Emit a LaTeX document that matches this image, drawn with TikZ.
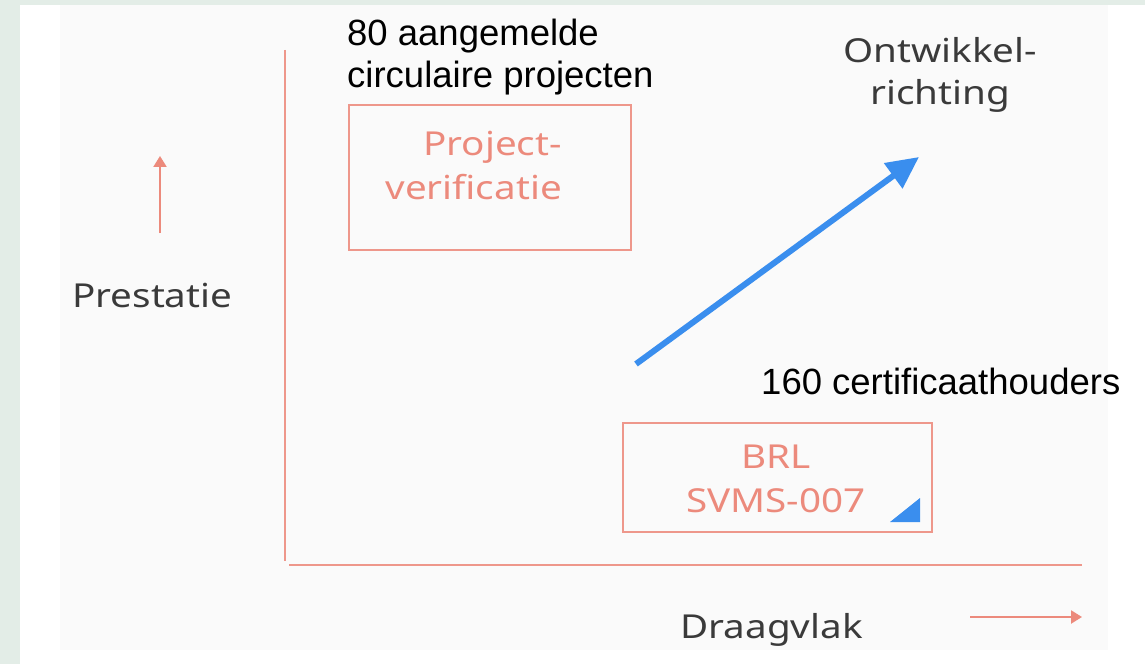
\documentclass[tikz,border=0pt]{standalone}
\usepackage{fontspec}
\setmainfont{Liberation Sans}
\newfontfamily\rob[FakeStretch=1.17]{Noto Sans}
\usetikzlibrary{arrows.meta}
\definecolor{bggreen}{HTML}{E3EDE7}
\definecolor{panelgray}{HTML}{FAFAFA}
\definecolor{salmon}{HTML}{EC8A7C}
\definecolor{salmonline}{HTML}{EE978B}
\definecolor{darkgray}{HTML}{3A3A3A}
\definecolor{arrowblue}{HTML}{3A8EEE}
\tikzset{
  axisline/.style={draw=salmonline, line width=2bp},
  boxframe/.style={draw=salmonline, line width=1.6bp, inner sep=0pt},
  boxtext/.style={text=salmon, font=\rob\fontsize{33bp}{44bp}\selectfont, inner sep=0pt},
  graytext/.style={text=darkgray, font=\rob\fontsize{33bp}{42bp}\selectfont, inner sep=0pt},
  blacktext/.style={text=black, font=\fontsize{36.5bp}{42bp}\selectfont, inner sep=0pt},
  bluearrow/.style={draw=arrowblue, line width=6bp, -{Triangle[length=32bp,width=30bp]}},
  smallarrow/.style={draw=salmon, line width=2.2bp, -{Triangle[length=11bp,width=13bp]}}
}
\begin{document}
\begin{tikzpicture}[x=1bp,y=-1bp]
% background
\fill[bggreen] (0,0) rectangle (1145,664);
\fill[white] (20,5) rectangle (1145,664);
\fill[panelgray] (60,5) rectangle (1108,650);
\useasboundingbox (0,0) rectangle (1145,664);
% axes
\coordinate (ytop) at (285,50);
\coordinate (ybot) at (285,561);
\coordinate (xl) at (289,565);
\coordinate (xr) at (1082,565);
\draw[axisline] (ytop) -- (ybot);
\draw[axisline] (xl) -- (xr);
% axis direction arrows
\coordinate (ua1) at (160,233);
\coordinate (ua2) at (160,156);
\draw[smallarrow] (ua1) -- (ua2);
\coordinate (ra1) at (970,617);
\coordinate (ra2) at (1082,617);
\draw[smallarrow] (ra1) -- (ra2);
% axis labels
\node[graytext, anchor=base west] (prest) at (72,307) {Prestatie};
\node[graytext, anchor=base] (draag) at (771.5,638) {Draagvlak};
\node[graytext, align=center, anchor=base] (ontw) at (940,105) {Ontwikkel-\\richting};
% boxes
\node[boxframe, minimum width=282bp, minimum height=145bp] (pv) at (490,177.5) {};
\node[boxtext, align=right, anchor=base east] (pvt) at (562,200) {Project-\\verificatie};
\node[boxframe, minimum width=309bp, minimum height=109bp] (brl) at (777.5,477.5) {};
\node[boxtext, align=center, anchor=base] (brlt) at (776,512) {BRL\\SVMS-007};
\fill[arrowblue] (890,522) -- (920,522) -- (920,498) -- cycle;
% black labels
\node[blacktext, align=left, anchor=base west] (n80) at (347,88) {80 aangemelde\\circulaire projecten};
\node[blacktext, anchor=base west] (n160) at (761,394) {160 certificaathouders};
% development direction
\coordinate (bs) at (636,364);
\coordinate (be) at (919,157);
\draw[bluearrow] (bs) -- (be);
\end{tikzpicture}
\end{document}
